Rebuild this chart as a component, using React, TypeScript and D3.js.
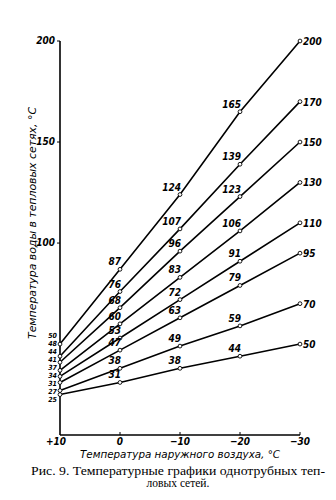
import React from "react";
import * as d3 from "d3";

const outdoorTemps = [10, 0, -10, -20, -30];
const xTickLabels = ["+10", "0", "−10", "−20", "−30"];
const line200 = [50, 87, 124, 165, 200];
const line170 = [44, 76, 107, 139, 170];
const line150 = [41, 68, 96, 123, 150];
const line130 = [37, 60, 83, 106, 130];
const line110 = [34, 53, 72, 91, 110];
const line95 = [31, 47, 63, 79, 95];
const line70 = [27, 38, 49, 59, 70];
const line50 = [25, 31, 38, 44, 50];
const startLabels = ["50", "48", "44", "41", "37", "34", "31", "27", "25"];
const yTicks = [100, 150, 200];

const series = [line200, line170, line150, line130, line110, line95, line70, line50];

const W = 336;
const H = 500;
const italicFont = "'Liberation Sans Narrow', 'DejaVu Sans Condensed', 'Arial Narrow', sans-serif";

export default function App() {
  const x = d3.scaleLinear().domain([10, -30]).range([60, 300]);
  const y = d3.scaleLinear().domain([5, 200]).range([435, 41]);
  const line = d3
    .line<number>()
    .x((_, i) => x(outdoorTemps[i]))
    .y((d) => y(d));

  const labelTop = y(50) - 9;
  const labelBottom = y(25) + 5;
  const labelPos = d3
    .scalePoint<string>()
    .domain(startLabels.map((s, i) => i + ":" + s))
    .range([labelTop, labelBottom]);

  return (
    <svg
      width={W}
      height={H}
      style={{ position: "absolute", left: 0, top: 0, background: "#fff" }}
    >
      {/* axes */}
      <line x1={x(10)} x2={x(10)} y1={y(200)} y2={y(5)} stroke="#000" strokeWidth={1.6} />
      <line x1={x(10)} x2={x(-30)} y1={y(5)} y2={y(5)} stroke="#000" strokeWidth={1.6} />
      {yTicks.map((t) => (
        <g key={"yt" + t}>
          <line x1={x(10) - 3} x2={x(10)} y1={y(t)} y2={y(t)} stroke="#000" strokeWidth={1} />
          <text
            x={x(10) - 5}
            y={y(t) + 3}
            textAnchor="end"
            fontFamily={italicFont}
            fontStyle="italic"
            fontWeight="bold"
            fontSize={10}
          >
            {t}
          </text>
        </g>
      ))}
      {outdoorTemps.map((t, i) => (
        <g key={"xt" + t}>
          {i > 0 && (
            <line x1={x(t)} x2={x(t)} y1={y(5)} y2={y(5) - 3} stroke="#000" strokeWidth={1} />
          )}
          <text
            x={x(t) - (i === 0 ? 4 : 0)}
            y={y(5) + 10}
            textAnchor="middle"
            fontFamily={italicFont}
            fontStyle="italic"
            fontWeight="bold"
            fontSize={10}
          >
            {xTickLabels[i]}
          </text>
        </g>
      ))}

      {/* lines */}
      {series.map((s, si) => (
        <path key={"l" + si} d={line(s) || ""} fill="none" stroke="#000" strokeWidth={1.6} />
      ))}
      {series.map((s, si) =>
        s.map((v, i) => (
          <circle
            key={"p" + si + "-" + i}
            cx={x(outdoorTemps[i])}
            cy={y(v)}
            r={1.9}
            fill="#fff"
            stroke="#000"
            strokeWidth={0.9}
          />
        ))
      )}
      {/* mid-point labels */}
      {series.map((s, si) =>
        s.slice(1, 4).map((v, j) => {
          const i = j + 1;
          return (
            <text
              key={"t" + si + "-" + i}
              x={x(outdoorTemps[i]) + 1}
              y={y(v) - 4}
              textAnchor="end"
              fontFamily={italicFont}
              fontStyle="italic"
              fontWeight="bold"
              fontSize={10}
            >
              {v}
            </text>
          );
        })
      )}
      {/* end labels */}
      {series.map((s, si) => (
        <text
          key={"e" + si}
          x={x(-30) + 3}
          y={y(s[4]) + 4}
          textAnchor="start"
          fontFamily={italicFont}
          fontStyle="italic"
          fontWeight="bold"
          fontSize={10}
        >
          {s[4]}
        </text>
      ))}
      {/* start labels */}
      {startLabels.map((s, i) => (
        <text
          key={"s" + i}
          x={x(10) - 3}
          y={(labelPos(i + ":" + s) || 0) + 2.5}
          textAnchor="end"
          fontFamily={italicFont}
          fontStyle="italic"
          fontWeight="bold"
          fontSize={7}
        >
          {s}
        </text>
      ))}

      {/* axis titles */}
      <text
        transform={`translate(36,${223}) rotate(-90)`}
        textAnchor="middle"
        fontFamily={italicFont}
        fontStyle="italic"
        fontSize={11}
        textLength={232}
        lengthAdjust="spacingAndGlyphs"
      >
        Температура воды в тепловых сетях, °C
      </text>
      <text
        x={180}
        y={458}
        textAnchor="middle"
        fontFamily={italicFont}
        fontStyle="italic"
        fontSize={10.5}
        textLength={200}
        lengthAdjust="spacingAndGlyphs"
      >
        Температура наружного воздуха, °C
      </text>

      {/* caption */}
      <text
        x={178}
        y={475}
        textAnchor="middle"
        fontFamily="'Liberation Serif', 'DejaVu Serif', serif"
        fontSize={11.5}
        textLength={294}
        lengthAdjust="spacingAndGlyphs"
      >
        Рис. 9. Температурные графики однотрубных теп-
      </text>
      <text
        x={178}
        y={487}
        textAnchor="middle"
        fontFamily="'Liberation Serif', 'DejaVu Serif', serif"
        fontSize={11.5}
      >
        ловых сетей.
      </text>
    </svg>
  );
}
